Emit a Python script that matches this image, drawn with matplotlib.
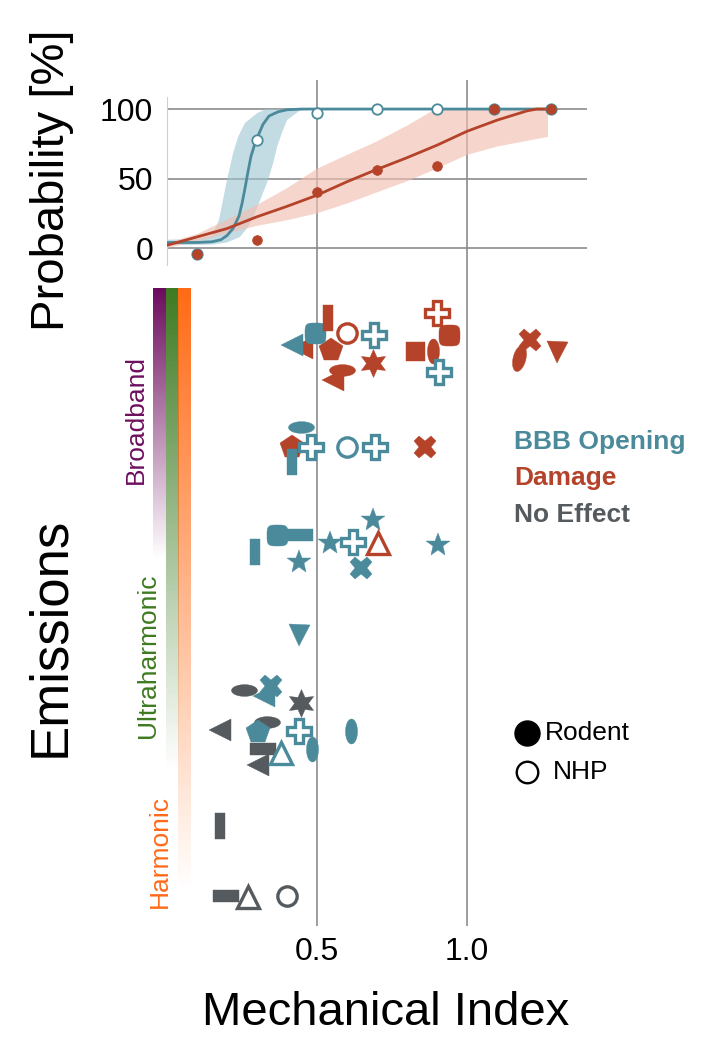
import numpy as np
import matplotlib.pyplot as plt
from matplotlib.path import Path
from matplotlib.colors import to_rgb

plt.rcParams['font.family'] = ['Liberation Sans', 'DejaVu Sans']

TEAL = '#4a8a9b'
RED = '#b4432a'
GRAY = '#555a5e'
EFFECT_COLORS = {'bbb': TEAL, 'dmg': RED, 'none': GRAY}

obs_mi = [0.1, 0.3, 0.5, 0.7, 0.9, 1.09, 1.28]
bbb_obs = [-4, 78, 97, 100, 100, 100, 100]
dmg_obs = [-4, 6, 40, 56, 59, 100, 100]

bbb_fit_mi = [0.0, 0.10, 0.15, 0.18, 0.20, 0.22, 0.24, 0.25, 0.26, 0.27, 0.28,
              0.29, 0.30, 0.32, 0.34, 0.37, 0.40, 0.45, 1.28]
bbb_fit_p = [4, 4, 4.5, 6, 9, 14, 23, 32, 43, 55, 66, 73, 79, 89, 95, 98, 99.5, 100, 100]

bbb_hi_mi = [0.0, 0.10, 0.15, 0.173, 0.20, 0.22, 0.237, 0.26, 0.30, 0.33, 0.50]
bbb_hi_p = [6, 6.5, 9, 20, 49, 68, 80, 90, 97, 100, 100]
bbb_lo_mi = [0.0, 0.15, 0.20, 0.243, 0.27, 0.293, 0.315, 0.337, 0.355, 0.367, 0.385, 0.40, 0.443, 0.50]
bbb_lo_p = [2, 2.5, 4, 8, 15, 25, 37, 49, 62, 73, 84, 92, 99, 100]

dmg_fit_mi = [0.0, 0.1, 0.2, 0.3, 0.4, 0.5, 0.6, 0.693, 0.8, 0.9, 1.0, 1.1, 1.2, 1.233, 1.28]
dmg_fit_p = [2, 8, 14, 22.5, 30, 38, 47.7, 56, 65, 74, 84, 92, 98.7, 100, 100]

dmg_hi_mi = [0.0, 0.1, 0.187, 0.3, 0.4, 0.5, 0.6, 0.693, 0.8, 0.887, 0.9, 1.27]
dmg_hi_p = [3.5, 10, 19, 31, 43, 57, 67, 76, 88, 99, 100, 100]
dmg_lo_mi = [0.0, 0.1, 0.21, 0.3, 0.4, 0.5, 0.6, 0.693, 0.8, 0.887, 1.0, 1.1, 1.27]
dmg_lo_p = [0, 5, 11, 16, 20, 25, 32, 39.5, 48, 56, 67, 73, 80]

# ---- bottom panel: individual studies ----
pt_mi = [0.449, 0.416, 0.547, 0.493, 0.537, 0.600, 0.690, 0.687, 0.553, 0.583,
         0.827, 0.886, 0.940, 0.899, 0.907, 1.173, 1.210, 1.300,
         0.416, 0.417, 0.446, 0.479, 0.601, 0.693, 0.860,
         0.293, 0.443, 0.366, 0.440, 0.543, 0.688, 0.647, 0.621, 0.704, 0.902,
         0.441, 0.257, 0.322, 0.347, 0.447, 0.177, 0.332, 0.304, 0.441, 0.613,
         0.482, 0.304, 0.319, 0.379,
         0.177, 0.195, 0.271, 0.399]
pt_emis = [5.78, 5.81, 5.76, 5.93, 6.08, 5.93, 5.91, 5.63, 5.46, 5.56,
           5.75, 5.75, 5.91, 6.13, 5.54, 5.68, 5.86, 5.74,
           4.79, 4.64, 4.99, 4.79, 4.79, 4.79, 4.79,
           3.74, 3.91, 3.91, 3.64, 3.83, 4.06, 3.58, 3.84, 3.83, 3.81,
           2.91, 2.36, 2.30, 2.40, 2.23, 1.96, 2.04, 1.94, 1.95, 1.95,
           1.77, 1.61, 1.77, 1.73,
           1.00, 0.30, 0.29, 0.30]
pt_effect = ['dmg', 'bbb', 'dmg', 'bbb', 'dmg', 'dmg', 'bbb', 'dmg', 'dmg', 'dmg',
             'dmg', 'dmg', 'dmg', 'dmg', 'bbb', 'dmg', 'dmg', 'dmg',
             'dmg', 'bbb', 'bbb', 'bbb', 'bbb', 'bbb', 'dmg',
             'bbb', 'bbb', 'bbb', 'bbb', 'bbb', 'bbb', 'bbb', 'bbb', 'dmg', 'bbb',
             'bbb', 'none', 'bbb', 'bbb', 'none', 'none', 'none', 'bbb', 'bbb', 'bbb',
             'bbb', 'none', 'none', 'bbb',
             'none', 'none', 'none', 'none']
pt_shape = ['ltri', 'ltri', 'pent', 'squircle', 'vrect', 'circle', 'plus', 'star6', 'ltri', 'hell',
            'sq', 'vell', 'squircle', 'plus', 'plus', 'vell_tilt', 'x', 'dtri',
            'pent', 'vrect', 'hell', 'plus', 'circle', 'plus', 'x',
            'vrect', 'hrect', 'squircle', 'star5', 'star5', 'star5', 'x', 'plus', 'utri', 'star5',
            'dtri', 'hell', 'ltri', 'x', 'star6', 'ltri', 'hell', 'pent', 'plus', 'vell',
            'vell', 'ltri', 'hrect', 'utri',
            'vrect', 'hrect', 'utri', 'circle']
pt_species = ['rodent', 'rodent', 'rodent', 'rodent', 'rodent', 'nhp', 'nhp', 'rodent', 'rodent', 'rodent',
              'rodent', 'rodent', 'rodent', 'nhp', 'nhp', 'rodent', 'rodent', 'rodent',
              'rodent', 'rodent', 'rodent', 'nhp', 'nhp', 'nhp', 'rodent',
              'rodent', 'rodent', 'rodent', 'rodent', 'rodent', 'rodent', 'rodent', 'nhp', 'nhp', 'rodent',
              'rodent', 'rodent', 'rodent', 'rodent', 'rodent', 'rodent', 'rodent', 'rodent', 'nhp', 'rodent',
              'rodent', 'rodent', 'rodent', 'nhp',
              'rodent', 'rodent', 'nhp', 'nhp']


def ellipse_path(w, h, rot=0.0):
    t = np.linspace(0, 2 * np.pi, 60)
    x, y = w * np.cos(t), h * np.sin(t)
    c, s = np.cos(np.radians(rot)), np.sin(np.radians(rot))
    return Path(np.column_stack([c * x - s * y, s * x + c * y]), closed=True)


def rect_path(w, h):
    return Path([(-w, -h), (w, -h), (w, h), (-w, h), (-w, -h)], closed=True)


def squircle_path():
    t = np.linspace(0, 2 * np.pi, 80)
    x = np.sign(np.cos(t)) * np.abs(np.cos(t)) ** 0.5
    y = np.sign(np.sin(t)) * np.abs(np.sin(t)) ** 0.5
    return Path(np.column_stack([x, y]), closed=True)


# marker, size in pixels
SHAPES = {
    'ltri': ('<', 22), 'dtri': ('v', 21), 'utri': ('^', 23), 'sq': ('s', 19),
    'squircle': (squircle_path(), 21), 'vrect': (rect_path(0.42, 1), 26),
    'hrect': (rect_path(1, 0.45), 26), 'hell': (ellipse_path(1, 0.45), 26),
    'vell': (ellipse_path(0.48, 1), 25), 'vell_tilt': (ellipse_path(0.48, 1, -14), 26),
    'pent': ('p', 25), 'star5': ('*', 25), 'star6': ((6, 1, 0), 28),
    'plus': ('P', 25), 'x': ('X', 23), 'circle': ('o', 21),
}

W, H = 711, 1050
fig = plt.figure(figsize=(W / 100, H / 100), dpi=100)

# top panel
ax1 = fig.add_axes([167 / W, 1 - 270 / H, 420 / W, 190 / H])
ax1.set_xlim(0, 1.4)
ax1.set_ylim(-15.8, 120.9)
ax1.fill(bbb_hi_mi + bbb_lo_mi[::-1], bbb_hi_p + bbb_lo_p[::-1], color='#9cc4cf', alpha=0.6, lw=0, zorder=1)
ax1.fill(dmg_hi_mi + [1.27] + dmg_lo_mi[::-1], dmg_hi_p + [100] + dmg_lo_p[::-1],
         color='#f2bfb3', alpha=0.65, lw=0, zorder=1)
ax1.plot(bbb_fit_mi, bbb_fit_p, color=TEAL, lw=2.0, zorder=3)
ax1.plot(dmg_fit_mi, dmg_fit_p, color=RED, lw=2.0, zorder=3)
ax1.plot(obs_mi, bbb_obs, ls='none', marker='o', ms=7.5, mfc='white', mec=TEAL, mew=1.3, zorder=4)
ax1.plot(obs_mi, dmg_obs, ls='none', marker='o', ms=7, mfc=RED, mec=RED, mew=0.5, zorder=5)
ax1.set_xticks([0.5, 1.0])
ax1.set_yticks([0, 50, 100])
ax1.grid(True, color='#8c8c8c', lw=1.2, zorder=0)
ax1.set_axisbelow(True)
ax1.tick_params(length=0, labelbottom=False, labelsize=23, pad=10)
for s in ['top', 'right', 'bottom']:
    ax1.spines[s].set_visible(False)
ax1.spines['left'].set_color('#d0d0d0')
ax1.spines['left'].set_bounds(-12, 109)

# bottom panel
ax2 = fig.add_axes([167 / W, 1 - 926 / H, 420 / W, 656 / H])
ax2.set_xlim(0, 1.4)
ax2.set_ylim(0, 6.56)
for x, y, eff, shp, sp in zip(pt_mi, pt_emis, pt_effect, pt_shape, pt_species):
    mk, px = SHAPES[shp]
    col = EFFECT_COLORS[eff]
    if sp == 'nhp':
        ax2.plot([x], [y], ls='none', marker=mk, ms=px * 0.72 - 1.2, mfc='white', mec=col, mew=2.4, zorder=3)
    else:
        ax2.plot([x], [y], ls='none', marker=mk, ms=px * 0.72, mfc=col, mec=col, mew=0.3, zorder=3)
ax2.set_xticks([0.5, 1.0])
ax2.set_xticklabels(['0.5', '1.0'])
ax2.set_yticks([])
ax2.grid(True, axis='x', color='#8c8c8c', lw=1.2, zorder=0)
ax2.set_axisbelow(True)
ax2.tick_params(length=0, labelsize=23, pad=8)
for s in ax2.spines.values():
    s.set_visible(False)

# emission gradient bars (one colour column each, fading downwards)
bar_colors = ['#6b0a5c', '#3d7a20', '#ff6a14']
bar_fade = [0.45, 0.80, 1.0]
n = 600
t = np.linspace(0, 1, n)
for j, (c, f) in enumerate(zip(bar_colors, bar_fade)):
    cax = fig.add_axes([(153 + 12.7 * j) / W, 1 - 890 / H, 12.7 / W, 602 / H])
    img = np.zeros((n, 1, 4))
    img[:, 0, :3] = to_rgb(c)
    img[:, 0, 3] = np.clip(1 - t / f, 0, 1)
    cax.imshow(img, aspect='auto', extent=[0, 1, 1, 0], interpolation='nearest')
    cax.axis('off')

fig.text(136 / W, 1 - 420 / H, 'Broadband', rotation=90, ha='center', va='center', fontsize=19, color='#6d0f5e')
fig.text(148 / W, 1 - 656 / H, 'Ultraharmonic', rotation=90, ha='center', va='center', fontsize=19, color='#3d7a20')
fig.text(160 / W, 1 - 851 / H, 'Harmonic', rotation=90, ha='center', va='center', fontsize=19, color='#ff6a1a')

# axis labels
fig.text(52 / W, 1 - 180 / H, 'Probability [%]', rotation=90, ha='center', va='center', fontsize=34)
fig.text(50 / W, 1 - 637 / H, 'Emissions', rotation=90, ha='center', va='center', fontsize=38)
fig.text(386 / W, 1 - 1013 / H, 'Mechanical Index', ha='center', va='center', fontsize=34)

# legends
for label, col, yp in [('BBB Opening', TEAL, 442), ('Damage', RED, 478), ('No Effect', GRAY, 515)]:
    fig.text(514 / W, 1 - yp / H, label, ha='left', va='center', fontsize=19, fontweight='bold', color=col)

fig.lines.append(plt.Line2D([527 / W], [1 - 733 / H], transform=fig.transFigure, marker='o', ms=18,
                            mfc='black', mec='black', ls='none'))
fig.lines.append(plt.Line2D([527 / W], [1 - 772 / H], transform=fig.transFigure, marker='o', ms=15.5,
                            mfc='white', mec='black', mew=1.7, ls='none'))
fig.text(545 / W, 1 - 733 / H, 'Rodent', ha='left', va='center', fontsize=19)
fig.text(553 / W, 1 - 772 / H, 'NHP', ha='left', va='center', fontsize=19)

fig.savefig('out.png', dpi=100)
